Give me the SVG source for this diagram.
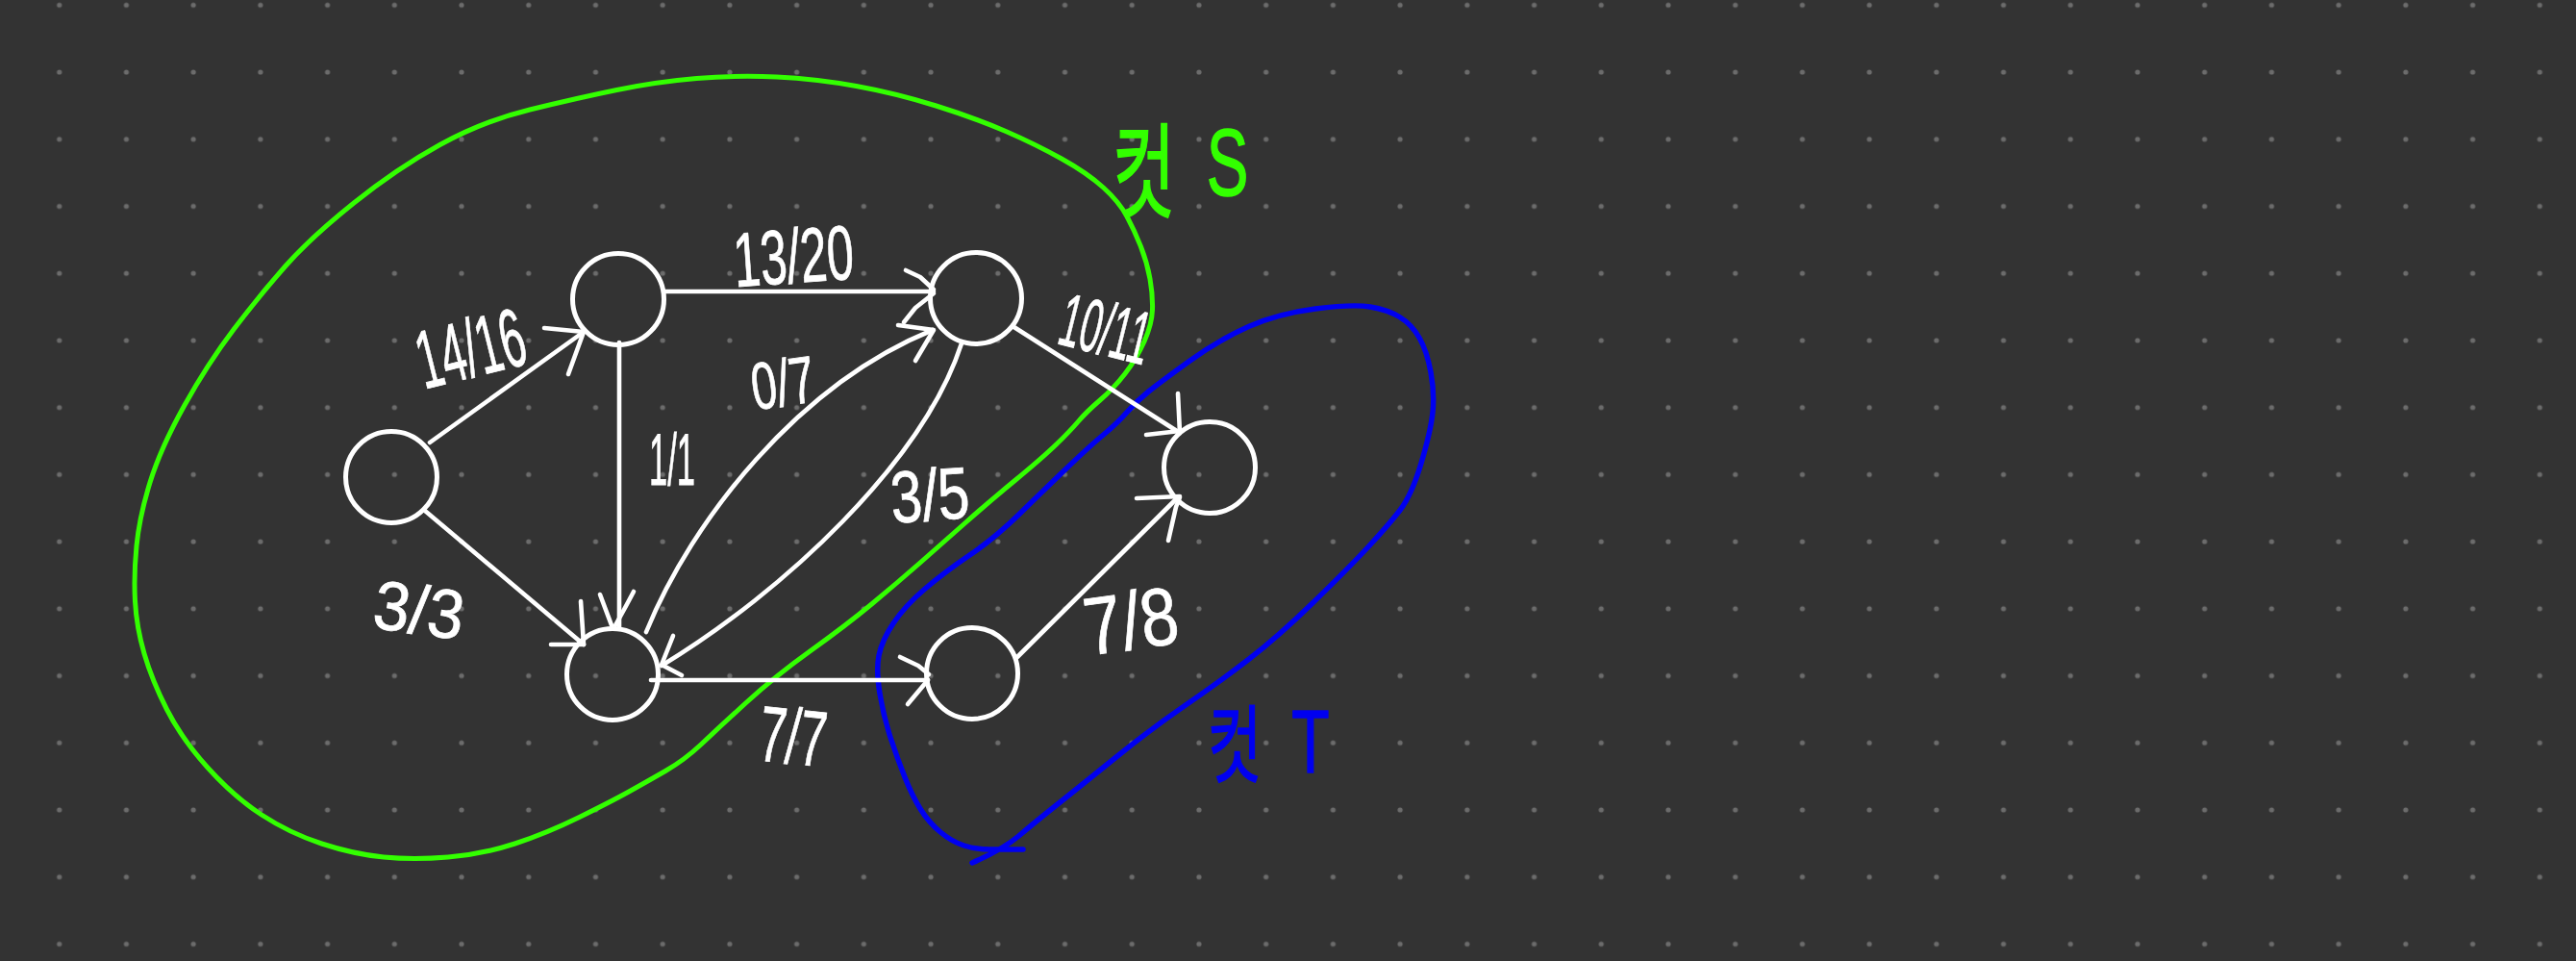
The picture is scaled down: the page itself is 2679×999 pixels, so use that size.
<svg xmlns="http://www.w3.org/2000/svg" width="2679" height="999" viewBox="0 0 2679 999">
<defs>
<pattern id="dots" patternUnits="userSpaceOnUse" x="26.84" y="-29.56" width="69.72" height="69.72">
<circle cx="34.86" cy="34.86" r="2.6" fill="#6c6c6c"/>
</pattern>
<style>
.node{fill:none;stroke:#fff;stroke-width:5}
.edge{fill:none;stroke:#fff;stroke-width:4.6;stroke-linecap:round;stroke-linejoin:round}
.lbl{fill:#fff;stroke:#fff;stroke-width:0.8;font-family:"Liberation Sans",Arial,sans-serif;text-anchor:middle}
.cutS{fill:none;stroke:#33ff00;stroke-width:5;stroke-linecap:round;stroke-linejoin:round}
.cutT{fill:none;stroke:#0000f0;stroke-width:5.5;stroke-linecap:round;stroke-linejoin:round}
.kr{font-family:"Noto Sans CJK KR","Liberation Sans",sans-serif}
</style>
</defs>
<rect width="2679" height="999" fill="#333333"/>
<rect width="2679" height="999" fill="url(#dots)"/>

<g id="cut-s">
<path class="cutS" d="M551,114 Q600,102 641.5,93.5 Q683,85 724.5,81.5 Q766,78 807.5,80 Q849,82 890.5,89.5 Q932,97 973.5,110 Q1015,123 1046,136.5 Q1077,150 1104,165 Q1131,180 1147.5,195 Q1164,210 1172,225 Q1180,240 1186.5,256.5 Q1193,273 1196,290 Q1199,307 1198.5,322 Q1198,337 1190,355 Q1182,373 1170,388.5 Q1158,404 1144,416 Q1130,428 1121.5,438 Q1113,448 1098.5,462 Q1084,476 1055.5,499.5 Q1027,523 1004.5,543 Q982,563 957.5,584.5 Q933,606 906.5,628 Q880,650 843,676.5 Q806,703 776.5,730 Q747,757 729.5,773.5 Q712,790 692,801.5 Q672,813 654,823 Q636,833 602.5,849.5 Q569,866 535.5,877 Q502,888 466,891 Q430,894 399,891 Q368,888 334.5,877 Q301,866 272,847 Q243,828 216,798 Q189,768 173.5,737.5 Q158,707 150,679.5 Q142,652 140.5,625 Q139,598 142,567.5 Q145,537 156,501.5 Q167,466 191.5,422 Q216,378 243,342.5 Q270,307 296.5,277 Q323,247 368,211 Q413,175 457.5,150.5 Q502,126 551,114 Z"/>
<text class="kr" fill="#33ff00" stroke="#33ff00" stroke-width="1.5" transform="scale(0.66,1)"><tspan x="1753" y="218" font-size="108">컷 </tspan><tspan x="1901" y="203" font-size="99" font-family="Liberation Sans, sans-serif">S</tspan></text>
</g>

<g id="cut-t">
<path class="cutT" d="M1064,883 L1053.5,883 Q1043,883 1029,883 Q1015,883 1002.5,879 Q990,875 978,865 Q966,855 957.5,841.5 Q949,828 941,808 Q933,788 926,766.5 Q919,745 915,721 Q911,697 914,681.5 Q917,666 929,648 Q941,630 961.5,612.5 Q982,595 1008.5,577 Q1035,559 1059.5,535 Q1084,511 1108.5,487.5 Q1133,464 1147.5,452 Q1162,440 1172,428.5 Q1182,417 1194.5,407 Q1207,397 1237.5,375 Q1268,353 1298.5,339.5 Q1329,326 1368,321 Q1407,316 1425,319 Q1443,322 1455.5,329.5 Q1468,337 1476,351 Q1484,365 1488,387 Q1492,409 1490,428.5 Q1488,448 1478,481.5 Q1468,515 1455.5,531 Q1443,547 1422.5,569 Q1402,591 1365.5,626.5 Q1329,662 1298.5,685.5 Q1268,709 1233,733 Q1198,757 1161.5,786.5 Q1125,816 1100.5,835.5 Q1076,855 1059.5,869 Q1043,883 1011,897"/>
<text class="kr" fill="#0000f0" stroke="#0000f0" stroke-width="1.5" transform="scale(0.7,1)"><tspan x="1794" y="806" font-size="88">컷 </tspan><tspan x="1919" y="803" font-size="92" font-family="Liberation Sans, sans-serif">T</tspan></text>
</g>

<g id="connectors">
<path class="edge" d="M447,460 L607,345"/>
<path class="edge" d="M566,341 L607,345 L591,389"/>
<path class="edge" d="M442,531 L607,670"/>
<path class="edge" d="M573,670 L607,670 L604,625"/>
<path class="edge" d="M644,356 L644,652"/>
<path class="edge" d="M624,618 L636,650 M659,615 L651,630 L640,650"/>
<path class="edge" d="M690,303 L971,303"/>
<path class="edge" d="M942,281 L957,288 L971,301 M940,335 L952,320 L971,305"/>
<path class="edge" d="M672,657 C720,540 830,400 970,343"/>
<path class="edge" d="M934,338 L971,343 L952,375"/>
<path class="edge" d="M1000,357 C960,480 815,615 688,692"/>
<path class="edge" d="M700,661 L688,691 L709,702"/>
<path class="edge" d="M677,707 L965,707"/>
<path class="edge" d="M936,683 L955,692 L966,701 M944,732 L965,707"/>
<path class="edge" d="M1053,339 L1227,450"/>
<path class="edge" d="M1225,409 L1227,450 M1192,452 L1227,448"/>
<path class="edge" d="M1058,683 L1223,519"/>
<path class="edge" d="M1182,518 L1227,516 M1215,562 L1223,527 L1227,517"/>
</g>

<g id="labels">
<text class="lbl" transform="translate(489,361) rotate(-14)" y="31" font-size="86" textLength="114" lengthAdjust="spacingAndGlyphs">14/16</text>
<text class="lbl" transform="translate(825,265) rotate(-4)" y="29" font-size="80" textLength="125" lengthAdjust="spacingAndGlyphs">13/20</text>
<text class="lbl" transform="translate(699,477)" y="27" font-size="76" textLength="48" lengthAdjust="spacingAndGlyphs">1/1</text>
<text class="lbl" transform="translate(814,397) rotate(-8)" y="25" font-size="69" textLength="66" lengthAdjust="spacingAndGlyphs">0/7</text>
<text class="lbl" transform="translate(967,514) rotate(-4)" y="27" font-size="76" textLength="82" lengthAdjust="spacingAndGlyphs">3/5</text>
<text class="lbl" transform="translate(436,633) rotate(8)" y="26" font-size="72" textLength="94" lengthAdjust="spacingAndGlyphs">3/3</text>
<text class="lbl" transform="translate(1150,341) rotate(14)" y="28" font-size="78" textLength="94" lengthAdjust="spacingAndGlyphs">10/11</text>
<text class="lbl" transform="translate(1176,644) rotate(-8)" y="31" font-size="85" textLength="98" lengthAdjust="spacingAndGlyphs">7/8</text>
<text class="lbl" transform="translate(825,764) rotate(6)" y="30" font-size="82" textLength="70" lengthAdjust="spacingAndGlyphs">7/7</text>
</g>

<g id="node-a"><circle class="node" cx="407" cy="496" r="47.5"/></g>
<g id="node-b"><circle class="node" cx="643" cy="311" r="47.5"/></g>
<g id="node-c"><circle class="node" cx="1015" cy="310" r="47.5"/></g>
<g id="node-d"><circle class="node" cx="637" cy="701" r="47.5"/></g>
<g id="node-e"><circle class="node" cx="1011" cy="700" r="47.5"/></g>
<g id="node-f"><circle class="node" cx="1258" cy="486" r="47.5"/></g>
</svg>
